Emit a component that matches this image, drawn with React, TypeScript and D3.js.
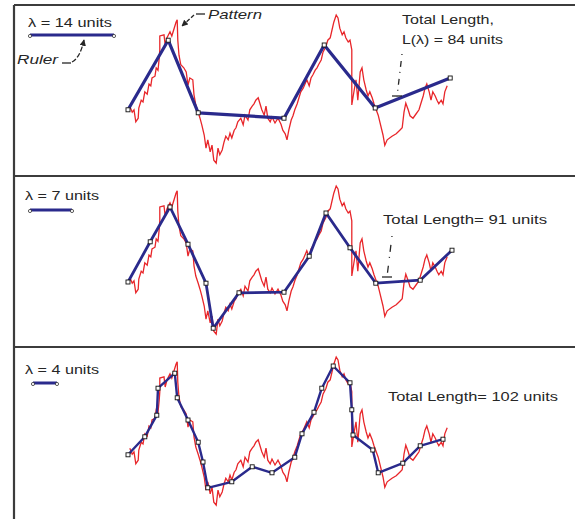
import React from 'react';
import * as d3 from 'd3';

// Pattern (red jagged curve) in pattern units: x along, y up
const patternX = [0.3,0.7,1.0,1.3,1.7,1.8,2.2,2.5,2.8,3.2,3.5,3.8,4.0,4.5,4.7,5.0,5.2,5.3,5.3,6.0,6.2,6.5,7.0,7.3,7.7,8.0,8.2,8.3,8.5,8.8,9.3,9.7,10.0,10.3,10.8,11.0,11.3,11.7,12.0,12.3,12.7,13.0,13.3,13.7,14.0,14.3,14.7,15.0,15.3,15.7,16.0,16.3,16.7,17.0,17.3,17.7,18.0,18.3,18.8,19.2,19.5,20.0,20.3,20.7,21.0,21.3,21.7,22.0,22.3,22.7,23.0,23.3,23.7,24.0,24.5,25.0,25.5,25.8,26.2,26.5,26.8,27.2,27.5,27.8,28.2,28.5,28.8,29.2,29.5,29.8,30.2,30.5,30.8,31.2,31.5,31.8,32.2,32.5,33.0,33.3,33.7,34.0,34.3,34.7,35.0,35.3,35.7,36.0,36.3,36.7,37.0,37.3,37.3,37.7,38.0,38.3,38.7,39.0,39.3,39.7,40.0,40.3,40.7,41.0,41.7,42.5,42.8,43.2,44.0,44.7,45.3,45.7,46.0,46.3,46.7,47.0,47.5,48.0,48.5,48.8,49.2,49.5,49.8,50.2,50.5,50.8,51.2,51.5,51.8,52.2,52.5,52.8,53.2];
const patternY = [10.3,9.3,9.7,7.7,8.3,10.0,11.3,11.0,12.7,12.3,14.0,13.7,15.0,15.3,16.7,16.3,18.3,19.7,22.0,22.2,20.5,21.7,22.7,22.0,23.3,24.3,24.7,21.3,18.8,17.2,16.7,16.0,13.8,15.0,14.7,12.2,10.5,9.3,8.3,7.2,5.5,3.3,4.7,2.7,3.8,1.3,0.8,3.3,2.2,3.0,4.3,5.3,4.7,5.8,5.0,6.3,6.7,7.7,8.3,7.2,8.8,8.0,9.7,10.3,10.7,11.3,11.7,10.7,9.7,8.8,10.3,8.3,7.7,8.5,7.5,8.3,7.3,6.3,5.7,4.7,6.3,8.0,8.7,9.7,10.7,11.7,12.7,13.3,14.0,14.7,13.7,15.0,15.5,16.3,16.7,17.3,18.0,19.3,20.3,21.3,21.7,23.0,24.3,25.5,25.0,23.3,22.2,22.7,21.7,21.0,21.3,19.7,10.5,13.0,14.7,11.3,16.0,16.7,14.7,13.0,12.0,12.7,11.7,10.7,8.8,5.5,3.8,4.7,5.3,5.7,6.3,6.7,9.3,10.8,9.7,8.7,8.3,9.0,9.7,10.7,12.0,13.3,14.0,12.7,11.3,12.7,12.0,11.3,10.7,11.3,10.7,12.7,13.7];

// Ruler walks (divider vertices) per panel
const walk1X = [0, 6.7, 11.7, 26.0, 32.7, 41.2, 53.7];
const walk1Y = [9.7, 21.3, 9.2, 8.3, 20.5, 10.0, 15.0];
const walk2X = [0, 3.7, 7.0, 10.0, 13.0, 14.2, 18.5, 26.0, 30.2, 33.0, 37.0, 41.3, 48.7, 54.0];
const walk2Y = [9.5, 16.2, 22.0, 15.8, 9.3, 1.8, 7.7, 7.8, 13.8, 21.0, 15.2, 9.3, 9.8, 14.8];
const walk3X = [0, 2.8, 4.8, 5.0, 7.8, 8.2, 10.0, 11.7, 12.5, 13.3, 17.3, 20.7, 24.0, 27.8, 29.0, 31.0, 32.3, 34.2, 37.0, 37.3, 37.5, 40.8, 41.7, 45.8, 48.7, 52.5];
const walk3Y = [9.2, 12.2, 15.8, 20.3, 22.8, 18.7, 15.0, 11.3, 8.0, 3.7, 4.7, 7.2, 6.2, 8.8, 12.7, 16.3, 20.3, 24.0, 21.2, 16.7, 12.5, 10.0, 6.2, 7.8, 10.7, 11.8];

const lambdas = [14, 7, 4];
const totals = [84, 91, 102];
const lambdaLabels = ['λ = 14 units', 'λ = 7 units', 'λ = 4 units'];

const W = 575, H = 519;
const RED = '#e8262a';
const BLUE = '#2a2a8c';
const INK = '#262626';

export default function App() {
  const unit = 6;
  const x = d3.scaleLinear().domain([0, 54]).range([128, 128 + 54 * unit]);
  const panelOffsets = [0, 171, 342];
  const yFor = (k: number) => d3.scaleLinear().domain([0, 27]).range([168 + panelOffsets[k], 168 + panelOffsets[k] - 27 * unit]);
  const walks = [
    walk1X.map((v, i) => [v, walk1Y[i]]),
    walk2X.map((v, i) => [v, walk2Y[i]]),
    walk3X.map((v, i) => [v, walk3Y[i]]),
  ];
  const pattern = patternX.map((v, i) => [v, patternY[i]]);
  const blueWidths = [3.2, 2.8, 2.4];
  const rulerY = [35, 210, 383];
  const rulerX0 = [30, 30, 33];
  const font = '"Liberation Sans", Arial, sans-serif';

  return (
    <svg width={W} height={H} style={{ position: 'absolute', left: 0, top: 0, background: '#fff' }}>
      <defs>
        <marker id="ah" viewBox="0 0 10 10" refX="9" refY="5" markerWidth="5" markerHeight="5" orient="auto">
          <path d="M0,0 L10,5 L0,10 z" fill={INK} />
        </marker>
      </defs>
      <rect x={0} y={0} width={W} height={H} fill="#fff" />
      {/* frame */}
      <g stroke="#3c3c3c" strokeWidth={2.2} fill="none">
        <line x1={14} y1={5} x2={W} y2={5} />
        <line x1={14} y1={5} x2={14} y2={H} />
        <line x1={14} y1={176} x2={W} y2={176} />
        <line x1={14} y1={347} x2={W} y2={347} />
      </g>
      {[0, 1, 2].map(k => {
        const y = yFor(k);
        const line = d3.line<number[]>().x(d => x(d[0])).y(d => y(d[1]));
        const rl = lambdas[k] * unit;
        return (
          <g key={k}>
            <path d={line(pattern) || ''} fill="none" stroke={RED} strokeWidth={1.3} strokeLinejoin="miter" />
            <path d={line(walks[k]) || ''} fill="none" stroke={BLUE} strokeWidth={blueWidths[k]} strokeLinejoin="round" />
            {walks[k].map((d, i) => (
              <rect key={i} x={x(d[0]) - 2} y={y(d[1]) - 2} width={4} height={4} fill="#fff" stroke="#111" strokeWidth={0.9} />
            ))}
            {/* ruler */}
            <line x1={rulerX0[k]} y1={rulerY[k]} x2={rulerX0[k] + rl} y2={rulerY[k]} stroke={BLUE} strokeWidth={3} />
            <circle cx={rulerX0[k]} cy={rulerY[k] + 1} r={1.6} fill="#fff" stroke="#333" strokeWidth={0.8} />
            <circle cx={rulerX0[k] + rl} cy={rulerY[k] + 1} r={1.6} fill="#fff" stroke="#333" strokeWidth={0.8} />
          </g>
        );
      })}
      {/* labels */}
      <g fontFamily={font} fontSize={13} fill={INK}>
        <text x={28} y={27} textLength={84} lengthAdjust="spacingAndGlyphs">{lambdaLabels[0]}</text>
        <text x={25} y={200} textLength={74} lengthAdjust="spacingAndGlyphs">{lambdaLabels[1]}</text>
        <text x={25} y={374} textLength={74} lengthAdjust="spacingAndGlyphs">{lambdaLabels[2]}</text>
        <text x={208} y={19} fontStyle="italic" textLength={54} lengthAdjust="spacingAndGlyphs">Pattern</text>
        <text x={17} y={64} fontStyle="italic" textLength={41} lengthAdjust="spacingAndGlyphs">Ruler</text>
        <text x={402} y={24} textLength={92} lengthAdjust="spacingAndGlyphs">Total Length,</text>
        <text x={402} y={44} textLength={101} lengthAdjust="spacingAndGlyphs">{`L(λ) = ${totals[0]} units`}</text>
        <text x={383} y={224} textLength={164} lengthAdjust="spacingAndGlyphs">{`Total Length= ${totals[1]} units`}</text>
        <text x={388} y={401} textLength={170} lengthAdjust="spacingAndGlyphs">{`Total Length= ${totals[2]} units`}</text>
      </g>
      {/* leaders */}
      <g stroke={INK} strokeWidth={1.3} fill="none">
        <line x1={196} y1={14} x2={205} y2={14} />
        <path d="M194,15 L182,26" strokeDasharray="4,2" markerEnd="url(#ah)" />
        <line x1={62} y1={63} x2={71} y2={63} />
        <path d="M72,62 Q80,58 84,40" strokeDasharray="5,2" markerEnd="url(#ah)" />
        <path d="M402,54 L397,97" strokeDasharray="1,6,6,5" />
        <line x1={392} y1={96} x2={402} y2={96} />
        <path d="M392,236 L387,277" strokeDasharray="1,8,7,5" />
        <line x1={382} y1={277} x2={392} y2={277} />
      </g>
    </svg>
  );
}
